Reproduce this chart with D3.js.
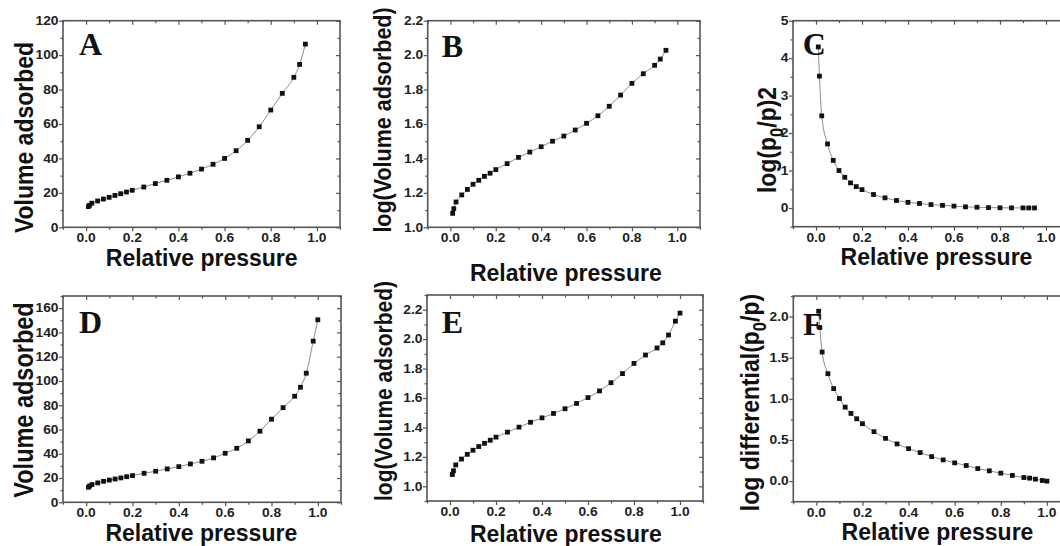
<!DOCTYPE html>
<html><head><meta charset="utf-8">
<script src="https://cdn.jsdelivr.net/npm/d3@7"></script>
<style>body{margin:0;background:#fff}svg{display:block}</style>
</head><body><svg id="c" width="1060" height="546"></svg>
<script>
// ---------- data ----------
const pressureABC = [0.01,0.015,0.025,0.05,0.075,0.1,0.125,0.15,0.175,0.2,0.25,0.3,0.35,0.4,0.45,0.5,0.55,0.6,0.65,0.7,0.75,0.8,0.85,0.9,0.925,0.95];
const pressureDEF = [0.01,0.015,0.025,0.05,0.075,0.1,0.125,0.15,0.175,0.2,0.25,0.3,0.35,0.4,0.45,0.5,0.55,0.6,0.65,0.7,0.75,0.8,0.85,0.9,0.925,0.95,0.98,1.0];
const volumeA = [12.0,12.8,14.0,15.3,16.4,17.4,18.5,19.5,20.5,21.5,23.4,25.4,27.3,29.3,31.4,33.8,36.6,40.0,44.5,50.5,58.4,68.1,77.8,87.1,94.6,106.4];
const logVolumeB = [1.081,1.108,1.147,1.188,1.220,1.250,1.273,1.296,1.314,1.335,1.370,1.406,1.437,1.468,1.500,1.530,1.565,1.604,1.648,1.703,1.768,1.836,1.892,1.941,1.977,2.028];
const logRatioSqC = [4.30,3.52,2.46,1.71,1.27,1.00,0.82,0.67,0.57,0.49,0.36,0.27,0.20,0.15,0.12,0.09,0.07,0.05,0.03,0.02,0.01,0.005,0.003,0.002,0.001,0.0005];
const volumeD = [12.4,13.5,14.6,16.0,17.3,18.3,19.2,20.1,21.1,22.0,23.9,25.6,27.5,29.4,31.6,33.8,36.6,40.4,44.5,50.6,58.6,68.5,78.0,87.4,94.8,106.4,132.8,150.4];
const logVolumeE = [1.080,1.105,1.145,1.185,1.217,1.245,1.270,1.292,1.313,1.334,1.368,1.402,1.435,1.465,1.495,1.527,1.563,1.603,1.648,1.704,1.766,1.835,1.892,1.940,1.975,2.028,2.122,2.177];
const logDiffF = [2.065,1.867,1.569,1.306,1.125,1.004,0.899,0.823,0.758,0.698,0.601,0.520,0.452,0.395,0.347,0.298,0.258,0.222,0.190,0.153,0.125,0.097,0.069,0.044,0.036,0.024,0.008,0.000];

const xTicks = [0,0.2,0.4,0.6,0.8,1.0];
const yTicksA = [0,20,40,60,80,100,120];
const yTicksB = [1.0,1.2,1.4,1.6,1.8,2.0,2.2];
const yTicksC = [0,1,2,3,4,5];
const yTicksD = [0,20,40,60,80,100,120,140,160];
const yTicksE = [1.0,1.2,1.4,1.6,1.8,2.0,2.2];
const yTicksF = [0.0,0.5,1.0,1.5,2.0];
const xTitle = "Relative pressure";

// ---------- layout ----------
const svg = d3.select('#c');
const panels = [
  {lab:'A', xs:pressureABC, ys:volumeA, l:63, r:340, t:20.7, b:227.3, yd:[0,120], yt:yTicksA, fmt:d3.format('d'),
   labX:79, labY:55, yTitle:[['Volume adsorbed']], ytX:33, ytY:137.5, ytF:23, xtY:265.5, xtX:201.7},
  {lab:'B', xs:pressureABC, ys:logVolumeB, l:427.7, r:700, t:20.7, b:227.3, yd:[1.0,2.2], yt:yTicksB, fmt:d3.format('.1f'),
   labX:441.7, labY:56.5, yTitle:[['log(Volume adsorbed)']], ytX:391, ytY:120, ytF:21.5, xtY:280.5, xtX:565.8},
  {lab:'C', xs:pressureABC, ys:logRatioSqC, l:793, r:1069, t:20.7, b:226.7, yd:[-0.5,5], yt:yTicksC, fmt:d3.format('d'),
   labX:802.7, labY:55, yTitle:[['log(p'],['0','sub'],['/p)2']], ytX:776, ytY:140, ytF:23, xtY:265, xtX:936.5},
  {lab:'D', xs:pressureDEF, ys:volumeD, l:63, r:341, t:296, b:502.3, yd:[0,170], yt:yTicksD, fmt:d3.format('d'),
   labX:79, labY:333.3, yTitle:[['Volume adsorbed']], ytX:33, ytY:400, ytF:23.5, xtY:541, xtX:201.3},
  {lab:'E', xs:pressureDEF, ys:logVolumeE, l:427, r:703, t:295, b:501, yd:[0.9,2.3], yt:yTicksE, fmt:d3.format('.1f'),
   labX:441.7, labY:333.3, yTitle:[['log(Volume adsorbed)']], ytX:392, ytY:391, ytF:21, xtY:541.5, xtX:565.8},
  {lab:'F', xs:pressureDEF, ys:logDiffF, l:793.3, r:1070, t:296, b:501.7, yd:[-0.25,2.25], yt:yTicksF, fmt:d3.format('.1f'),
   labX:803, labY:335, yTitle:[['log differential(p'],['0','sub'],['/p)']], ytX:759, ytY:402.5, ytF:23, xtY:540, xtX:937.5}
];

const frameColor = '#555';
function minorOf(ticks, dom) {
  const step = (ticks[1]-ticks[0])/2;
  const out = [];
  for (let v = ticks[0]-step; v >= dom[0]-1e-9; v -= 2*step) out.push(v);
  for (let v = ticks[0]+step; v <= dom[1]+1e-9; v += 2*step) out.push(v);
  return out;
}
function styleAxis(sel) {
  sel.select('.domain').remove();
  sel.selectAll('line').attr('stroke', frameColor).attr('stroke-width', 1.2);
  sel.selectAll('text').remove();
}

panels.forEach(p => {
  const g = svg.append('g');
  const x = d3.scaleLinear().domain([-0.1, 1.1]).range([p.l, p.r]);
  const y = d3.scaleLinear().domain(p.yd).range([p.b, p.t]);
  const xMinor = minorOf(xTicks, [-0.1, 1.1]);
  const yMinor = minorOf(p.yt, p.yd);

  const defs = [
    [d3.axisBottom(x).tickValues(xTicks).tickSize(4), `translate(0,${p.b})`],
    [d3.axisBottom(x).tickValues(xMinor).tickSize(2.5), `translate(0,${p.b})`],
    [d3.axisBottom(x).tickValues(xTicks).tickSize(4), `translate(0,${p.t})`],
    [d3.axisBottom(x).tickValues(xMinor).tickSize(2.5), `translate(0,${p.t})`],
    [d3.axisLeft(y).tickValues(p.yt).tickSize(4), `translate(${p.l},0)`],
    [d3.axisLeft(y).tickValues(yMinor).tickSize(2.5), `translate(${p.l},0)`],
    [d3.axisLeft(y).tickValues(p.yt).tickSize(4), `translate(${p.r},0)`],
    [d3.axisLeft(y).tickValues(yMinor).tickSize(2.5), `translate(${p.r},0)`]
  ];
  defs.forEach(([ax, tr]) => g.append('g').attr('transform', tr).call(ax.tickFormat('')).call(styleAxis));

  g.append('rect').attr('x', p.l).attr('y', p.t).attr('width', p.r - p.l).attr('height', p.b - p.t)
    .attr('fill', 'none').attr('stroke', frameColor).attr('stroke-width', 1.6);

  g.selectAll('text.xl').data(xTicks).join('text').attr('class', 'xl')
    .attr('transform', d => `translate(${x(d)},${p.b + 15}) scale(1.15,1)`)
    .attr('text-anchor', 'middle').attr('font-family', 'Liberation Sans, Arial, sans-serif')
    .attr('font-weight', 'bold').attr('font-size', 12).attr('fill', '#222')
    .text(d => d3.format('.1f')(d));
  g.selectAll('text.yl').data(p.yt).join('text').attr('class', 'yl')
    .attr('transform', d => `translate(${p.l - 4.5},${y(d) + 4.3}) scale(1.15,1)`)
    .attr('text-anchor', 'end').attr('font-family', 'Liberation Sans, Arial, sans-serif')
    .attr('font-weight', 'bold').attr('font-size', 12).attr('fill', '#222')
    .text(d => p.fmt(d));

  const pts = p.xs.map((v, i) => [v, p.ys[i]]);
  const line = d3.line().x(d => x(d[0])).y(d => y(d[1])).curve(d3.curveMonotoneX);
  g.append('path').attr('d', line(pts)).attr('fill', 'none').attr('stroke', '#8c8c8c').attr('stroke-width', 1);
  g.selectAll('rect.pt').data(pts).join('rect').attr('class', 'pt')
    .attr('x', d => x(d[0]) - 2.4).attr('y', d => y(d[1]) - 2.4)
    .attr('width', 4.8).attr('height', 4.8).attr('fill', '#111');

  g.append('text').attr('x', p.labX).attr('y', p.labY)
    .attr('font-family', 'Liberation Serif, Times New Roman, serif').attr('font-weight', 'bold')
    .attr('font-size', 32).attr('fill', '#111').text(p.lab);

  g.append('text').attr('x', p.xtX).attr('y', p.xtY).attr('text-anchor', 'middle')
    .attr('font-family', 'Liberation Sans, Arial, sans-serif').attr('font-weight', 'bold')
    .attr('font-size', 23).attr('fill', '#111').text(xTitle);

  const yt = g.append('text')
    .attr('transform', `translate(${p.ytX},${p.ytY}) scale(1.15,1) rotate(-90)`)
    .attr('text-anchor', 'middle')
    .attr('font-family', 'Liberation Sans, Arial, sans-serif').attr('font-weight', 'bold')
    .attr('font-size', p.ytF).attr('fill', '#111');
  let shifted = false;
  p.yTitle.forEach(([s, kind]) => {
    const ts = yt.append('tspan').text(s);
    if (kind === 'sub') { ts.attr('font-size', p.ytF * 0.72).attr('dy', 6); shifted = true; }
    else if (shifted) { ts.attr('dy', -6); shifted = false; }
  });
});
</script>
</body></html>
